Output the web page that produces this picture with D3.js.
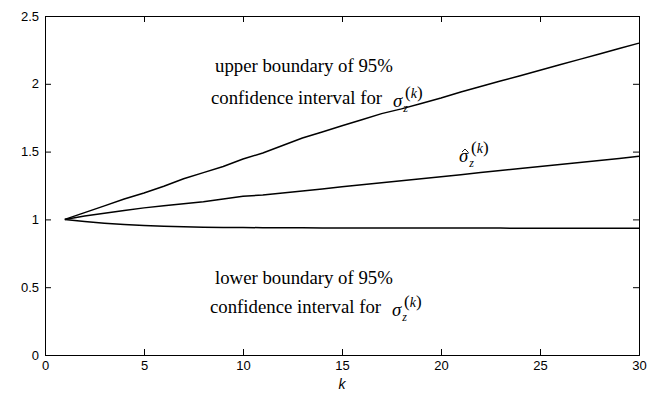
<!DOCTYPE html>
<html lang="en">
<head>
	<meta charset="UTF-8">
	<title>Confidence interval for sigma_z</title>
	<script src="https://d3js.org/d3.v7.min.js"></script>
	<style>
		body { margin: 0; background: #fff; }
		.axis text { font-family: Arial, "Liberation Sans", sans-serif; font-size: 13px; fill: #000; }
		.note { font-family: "Liberation Serif", "Times New Roman", serif; font-size: 18.8px; fill: #000; }
	</style>
</head>
<body>
<script>
	// ----data----
	var k = d3.range(1, 31);
	var upper = [1.00, 1.05, 1.10, 1.15, 1.195, 1.245, 1.30, 1.345, 1.39, 1.445,
		1.49, 1.545, 1.60, 1.645, 1.69, 1.735, 1.78, 1.815, 1.855, 1.895,
		1.94, 1.98, 2.02, 2.06, 2.10, 2.14, 2.18, 2.22, 2.26, 2.30];
	var sigmaHat = [1.00, 1.025, 1.045, 1.065, 1.085, 1.10, 1.115, 1.13, 1.15, 1.17,
		1.18, 1.195, 1.21, 1.225, 1.24, 1.255, 1.27, 1.285, 1.30, 1.315,
		1.33, 1.345, 1.36, 1.375, 1.39, 1.405, 1.42, 1.435, 1.45, 1.465];
	var lower = [1.00, 0.985, 0.972, 0.962, 0.955, 0.95, 0.946, 0.943, 0.941, 0.94,
		0.939, 0.938, 0.938, 0.937, 0.937, 0.937, 0.936, 0.936, 0.936, 0.936,
		0.936, 0.936, 0.936, 0.935, 0.935, 0.935, 0.935, 0.935, 0.935, 0.935];
	var xTicks = [0, 5, 10, 15, 20, 25, 30];
	var yTicks = [0, 0.5, 1, 1.5, 2, 2.5];

	var margin = {top: 16, bottom: 40, left: 45, right: 18};
	var W = 657, H = 395;
	var width = W - margin.left - margin.right,
		height = H - margin.top - margin.bottom;

	var svg = d3.select('body').append('svg')
		.attr('width', W)
		.attr('height', H)
		.append('g')
		.attr('transform', 'translate(' + margin.left + ',' + margin.top + ')');

	var x = d3.scaleLinear().domain([0, 30]).range([0, width]);
	var y = d3.scaleLinear().domain([0, 2.5]).range([height, 0]);

	//----axes, matlab style: ticks inside, box all round----
	var tl = 6;
	svg.append('g')
		.attr('class', 'axis')
		.attr('transform', 'translate(0,' + height + ')')
		.call(d3.axisBottom(x).tickValues(xTicks).tickSize(-tl).tickPadding(6).tickFormat(d3.format('d')));
	svg.append('g')
		.attr('class', 'axis')
		.call(d3.axisLeft(y).tickValues(yTicks).tickSize(-tl).tickPadding(6).tickFormat(function (d) { return d; }));
	svg.append('g')
		.attr('class', 'axis')
		.call(d3.axisTop(x).tickValues(xTicks).tickSize(-tl).tickFormat(''));
	svg.append('g')
		.attr('class', 'axis')
		.attr('transform', 'translate(' + width + ',0)')
		.call(d3.axisRight(y).tickValues(yTicks).tickSize(-tl).tickFormat(''));
	svg.selectAll('.axis path.domain').attr('stroke', '#000');
	svg.selectAll('.axis line').attr('stroke', '#000');

	svg.append('text')
		.attr('x', x(15))
		.attr('y', height + 34)
		.attr('text-anchor', 'middle')
		.style('font-family', 'Arial, "Liberation Sans", sans-serif')
		.style('font-style', 'italic')
		.style('font-size', '14px')
		.text('k');

	//----lines----
	var line = d3.line()
		.x(function (d, i) { return x(k[i]); })
		.y(function (d) { return y(d); });

	[upper, sigmaHat, lower].forEach(function (s) {
		svg.append('path')
			.attr('d', line(s))
			.attr('fill', 'none')
			.attr('stroke', '#000')
			.attr('stroke-width', 1.5);
	});

	//----annotations----
	function sigmaLabel(g, px, py, hat) {
		var t = g.append('text').attr('class', 'note').attr('x', px).attr('y', py);
		t.append('tspan').style('font-style', 'italic').text('σ');
		t.append('tspan').attr('dx', 1).attr('dy', 5).style('font-style', 'italic').style('font-size', '12px').text('z');
		if (hat) {
			// little circumflex over the sigma
			g.append('path')
				.attr('d', 'M' + (px + 3) + ',' + (py - 10) + 'l3,-3l3,3')
				.attr('fill', 'none')
				.attr('stroke', '#000')
				.attr('stroke-width', 0.9);
		}
		var s = g.append('text').attr('class', 'note').attr('x', px + 12).attr('y', py - 9);
		s.append('tspan').style('font-size', '17px').text('(');
		s.append('tspan').style('font-style', 'italic').style('font-size', '14px').text('k');
		s.append('tspan').style('font-size', '17px').text(')');
	}

	svg.append('text').attr('class', 'note').attr('x', 170).attr('y', 56).text('upper boundary of 95%');
	svg.append('text').attr('class', 'note').attr('x', 166).attr('y', 88).text('confidence interval for');
	sigmaLabel(svg, 348, 91, false);

	sigmaLabel(svg, 414, 146, true);

	svg.append('text').attr('class', 'note').attr('x', 170).attr('y', 268).text('lower boundary of 95%');
	svg.append('text').attr('class', 'note').attr('x', 165).attr('y', 297).text('confidence interval for');
	sigmaLabel(svg, 347, 300, false);
</script>
</body>
</html>
